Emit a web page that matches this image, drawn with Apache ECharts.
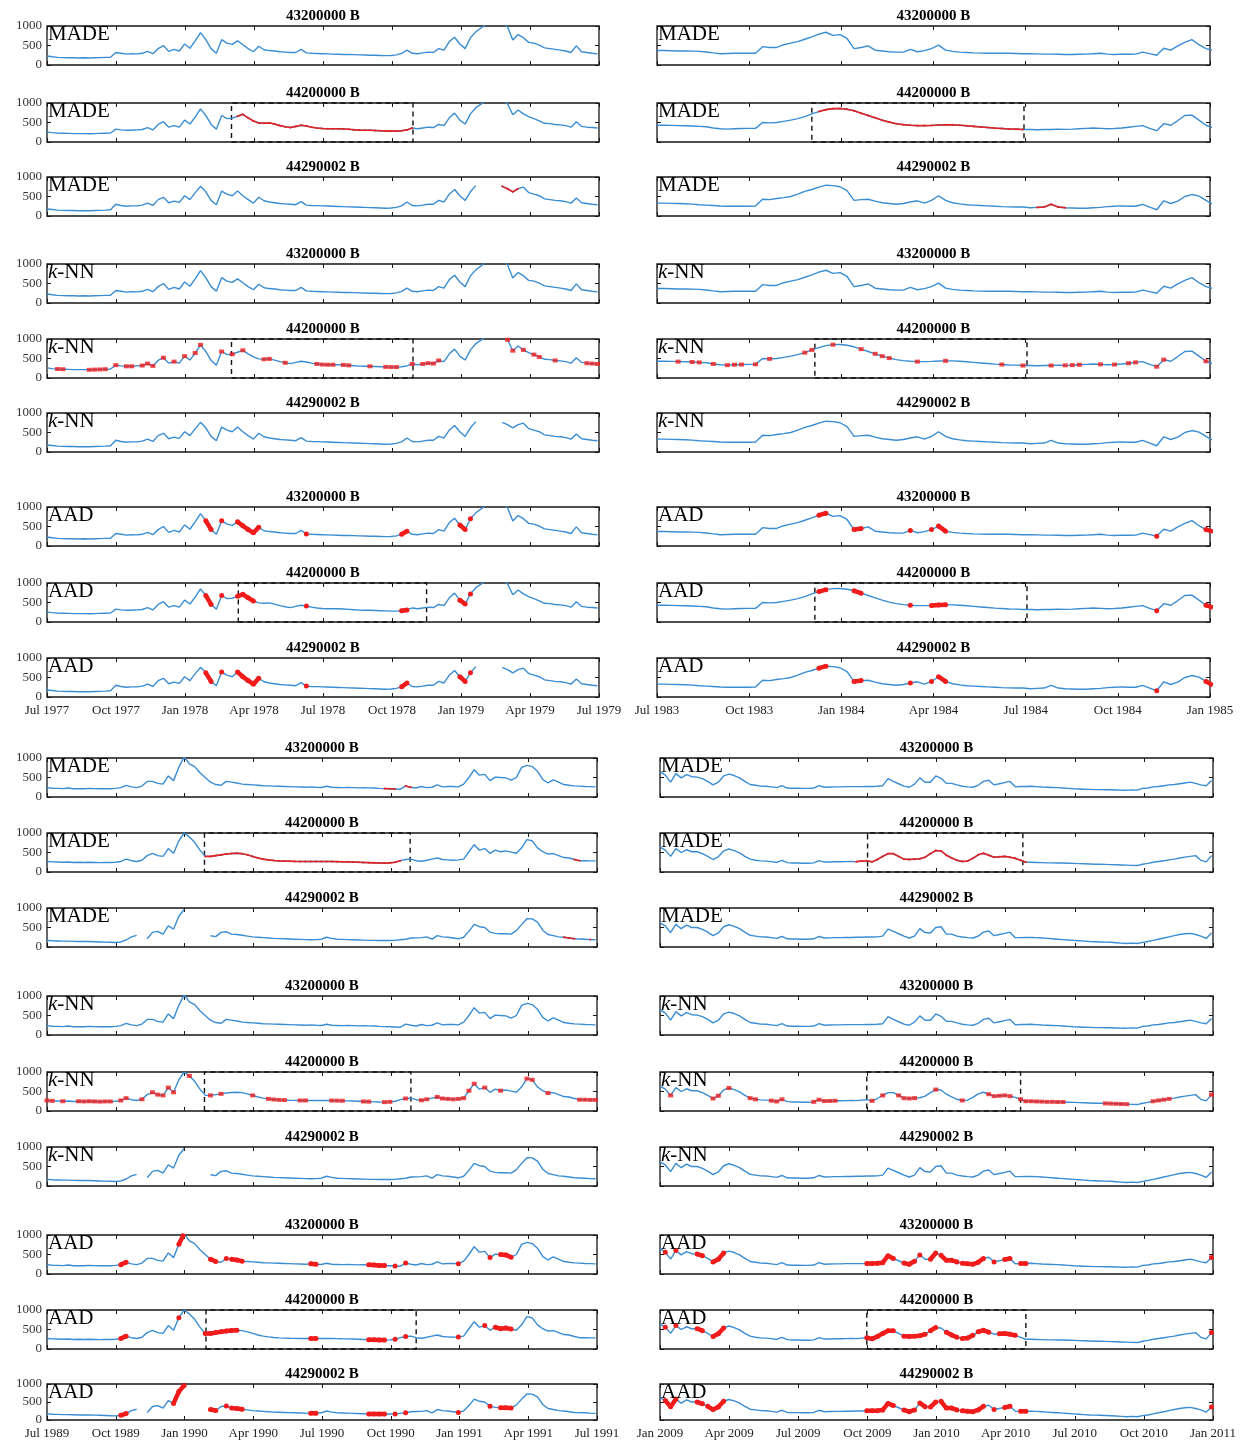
<!DOCTYPE html>
<html><head><meta charset="utf-8">
<script src="https://cdn.jsdelivr.net/npm/echarts@6/dist/echarts.min.js"></script>
<style>html,body{margin:0;padding:0;background:#fff}#c{width:1240px;height:1440px}</style>
</head><body><div id="c"></div>
<script>
// ---------------- DATA (weekly samples, step 7 days from the first tick) ----------------
const stations = ['43200000 B','44200000 B','44290002 B'];
const methods = ['MADE','k-NN','AAD'];

const tlTicks = ['Jul 1977','Oct 1977','Jan 1978','Apr 1978','Jul 1978','Oct 1978','Jan 1979','Apr 1979','Jul 1979'];
const trTicks = ['Jul 1983','Oct 1983','Jan 1984','Apr 1984','Jul 1984','Oct 1984','Jan 1985'];
const blTicks = ['Jul 1989','Oct 1989','Jan 1990','Apr 1990','Jul 1990','Oct 1990','Jan 1991','Apr 1991','Jul 1991'];
const brTicks = ['Jan 2009','Apr 2009','Jul 2009','Oct 2009','Jan 2010','Apr 2010','Jul 2010','Oct 2010','Jan 2011'];
const yTicks = ['0','500','1000'];

// Jul 1977 - Jul 1979
const tl43200000 = [230,210,195,190,185,185,180,185,180,185,
 190,195,200,320,300,280,290,285,300,350,
 290,420,500,350,400,360,540,430,620,830,
 650,420,300,650,560,530,620,520,420,340,
 480,390,370,360,340,330,320,320,400,310,
 300,295,290,285,280,275,270,268,265,260,
 255,250,250,245,240,245,260,300,380,300,
 290,310,330,320,420,380,600,710,540,420,
 700,850,950,1050,1150,1200,1100,980,640,780,
 700,580,560,510,440,420,400,380,360,320,
 490,340,320,300,285];
const tl44200000 = [260,240,230,225,220,215,215,215,210,215,
 220,225,230,330,310,300,300,310,320,370,
 310,450,520,380,420,380,560,460,640,850,
 680,450,330,680,600,610,660,710,620,540,
 490,480,490,460,420,390,370,400,430,410,
 380,360,345,340,340,340,335,325,315,305,
 300,300,295,290,285,280,280,290,310,360,
 340,360,380,370,450,420,620,740,560,460,
 720,880,970,1060,1150,1200,1100,980,700,820,
 720,650,600,540,480,470,450,440,420,380,
 520,400,380,370,360];
const tl44290002 = [180,165,150,145,140,140,135,135,135,140,
 145,150,160,300,270,250,260,260,280,330,
 270,420,480,340,380,350,520,420,600,760,
 620,400,290,640,560,520,640,520,420,330,
 480,390,360,340,320,310,300,290,370,280,
 270,265,260,255,250,245,240,235,230,225,
 220,215,210,205,200,205,220,260,360,270,
 260,280,300,300,400,360,560,680,520,400,
 620,780,null,null,null,null,760,700,620,700,
 740,600,560,520,440,420,400,390,370,330,
 460,340,320,300,290];

// Jul 1983 - Jan 1985
const tr43200000 = [370,370,365,360,358,355,350,335,310,290,
 295,300,300,300,300,470,450,450,520,560,
 600,660,720,790,840,760,780,680,420,450,
 490,380,360,340,330,330,400,340,370,420,
 510,380,350,330,320,310,305,300,300,300,
 300,295,290,290,285,280,280,275,270,270,
 275,280,290,300,280,270,280,275,280,330,
 290,250,430,380,490,580,650,520,420,370];
const tr44200000 = [430,430,425,420,415,410,400,390,360,340,
 330,340,345,350,350,500,490,500,530,560,
 600,650,720,780,830,855,860,840,800,740,
 680,620,560,510,470,445,430,420,420,425,
 435,440,440,430,415,400,385,370,355,345,
 335,330,320,320,315,320,320,330,325,330,
 340,350,360,350,340,345,360,380,400,420,
 350,290,470,430,550,680,690,560,430,370];
const tr44290002 = [330,330,325,320,315,305,290,280,270,255,
 250,250,250,250,255,430,420,450,470,500,
 560,630,680,740,790,780,750,650,400,420,
 430,380,340,320,300,320,360,390,330,400,
 520,400,340,310,290,280,270,260,250,240,
 235,230,230,210,220,230,300,230,210,205,
 200,200,210,220,240,250,260,250,250,300,
 230,160,390,320,380,500,550,510,400,300];

// Jul 1989 - Jul 1991
const bl43200000 = [240,225,220,215,230,210,215,210,220,215,
 210,215,210,220,240,300,260,240,280,400,
 400,350,330,540,420,760,1030,850,780,620,
 500,380,320,300,400,380,360,330,320,310,
 300,290,285,280,275,270,265,260,255,250,
 260,250,245,275,250,245,240,245,240,235,
 240,235,230,220,215,210,205,200,280,250,
 230,270,240,250,310,260,270,270,260,330,
 500,700,560,580,420,510,500,490,430,500,
 760,810,780,660,450,360,440,380,320,300,
 285,280,270,265,260];
const bl44200000 = [270,260,255,250,255,245,250,245,250,245,
 240,245,245,250,270,330,290,270,300,420,
 480,420,400,600,480,800,1000,900,760,560,
 400,400,420,440,460,475,480,470,440,400,
 360,330,310,295,285,280,275,272,270,270,
 270,270,270,270,268,265,262,260,255,250,
 245,240,235,230,228,235,250,290,320,330,
 290,275,300,330,360,320,310,300,310,330,
 520,700,560,600,480,560,520,540,510,480,
 620,830,800,620,520,460,470,420,370,360,
 320,290,290,285,285];
const bl44290002 = [170,160,155,150,150,145,140,140,140,135,
 130,125,120,115,130,180,260,300,null,210,
 375,400,330,540,460,790,960,null,null,null,
 null,290,265,375,390,330,320,300,280,260,
 250,240,230,220,215,210,205,200,195,190,
 185,190,200,250,220,200,195,190,185,180,
 175,170,170,165,165,165,170,185,200,230,
 235,240,260,200,290,260,250,230,210,250,
 400,580,520,500,380,350,340,340,330,420,
 580,725,720,640,430,320,290,260,250,230,
 210,205,200,190,185];

// Jan 2009 - Jan 2011
const br43200000 = [650,560,380,600,490,575,520,510,470,400,
 310,380,540,585,550,490,400,320,300,280,
 275,260,240,290,230,225,225,220,220,230,
 290,250,255,260,260,265,265,265,265,270,
 270,275,290,470,400,340,280,250,330,490,
 380,380,540,480,350,350,310,275,260,250,
 300,400,430,310,340,370,400,260,270,270,
 275,265,255,250,245,240,230,220,210,205,
 200,195,190,190,185,185,180,175,175,180,
 175,220,230,260,270,290,310,320,340,360,
 380,350,310,290,420];
const br44200000 = [640,560,400,600,500,570,520,520,470,400,
 320,390,540,590,550,490,400,330,300,285,
 280,265,245,300,240,230,230,225,225,235,
 290,255,258,262,262,265,268,265,280,290,
 260,320,400,470,470,400,330,320,330,340,
 380,470,550,540,430,360,300,270,280,350,
 440,480,430,380,390,400,380,350,300,250,
 250,245,240,235,235,230,230,225,220,215,
 210,205,200,200,195,190,185,180,175,170,
 165,200,220,250,270,290,310,330,360,380,
 400,420,300,260,420];
const br44290002 = [620,540,370,580,470,560,500,500,450,380,
 290,360,520,570,530,470,380,300,280,260,
 255,240,220,270,210,205,205,200,200,210,
 270,230,235,240,240,245,245,250,250,255,
 255,260,280,460,400,340,280,230,280,470,
 370,360,500,520,330,330,280,255,240,230,
 280,380,410,290,320,350,380,240,240,245,
 245,240,230,220,210,200,190,180,170,160,
 150,140,135,130,125,120,110,100,90,100,
 90,120,140,170,200,230,260,290,320,340,
 350,320,280,220,360];

// highlighted (red) week-index ranges
const tlMadeRed = [[], [[36,69]], [[86,89]]];
const tlKnnPts = [[], [[2,3],[8,11],[13,13],[15,16],[18,20],[22,22],[24,24],[26,26],[28,29],[33,33],[35,35],[37,37],[41,42],[45,45],[51,54],[56,57],[61,61],[64,66],[69,69],[71,74],[86,88],[90,90],[92,93],[96,96],[102,104]], []];
const tlAad = [[[30,31],[33,33],[36,40],[49,49],[67,68],[78,79],[80,80]],
               [[30,31],[33,33],[36,39],[49,49],[67,68],[78,79],[80,80]],
               [[30,31],[33,33],[36,40],[49,49],[67,68],[78,79],[80,80]]];
const trMadeRed = [[], [[23,52]], [[54,58]]];
const trKnnPts = [[], [[3,3],[5,6],[8,8],[10,12],[14,14],[16,16],[21,22],[25,25],[29,29],[31,33],[37,37],[41,41],[49,49],[52,52],[56,56],[58,60],[63,63],[65,65],[67,68],[71,72],[78,78]], []];
const trAad = [[[23,24],[28,29],[36,36],[39,39],[40,41],[71,71],[78,79]],
               [[23,24],[28,29],[36,36],[39,41],[71,71],[78,79]],
               [[23,24],[28,29],[36,36],[39,39],[40,41],[71,71],[78,79]]];
const blMadeRed = [[[64,66],[68,69]], [[30,67],[100,101]], [[98,100],[103,103]]];
const blKnnPts = [[], [[0,1],[3,3],[6,12],[14,15],[18,18],[20,24],[27,27],[31,31],[33,33],[39,39],[42,45],[48,49],[54,56],[60,61],[64,65],[68,68],[71,72],[74,81],[83,83],[86,86],[91,92],[95,95],[101,104]], []];
const blAad = [[[14,15],[25,26],[31,32],[34,34],[35,37],[50,51],[61,64],[66,66],[68,68],[78,78],[84,84],[86,88]],
               [[14,15],[25,25],[30,36],[50,51],[61,64],[66,66],[68,68],[78,78],[83,83],[85,88]],
               [[14,15],[24,26],[31,32],[34,34],[35,37],[50,51],[61,64],[66,66],[68,68],[78,78],[84,84],[86,88]]];
const brMadeRed = [[], [[37,69]], []];
const brKnnPts = [[], [[2,2],[10,11],[13,13],[17,18],[21,23],[29,33],[40,40],[42,42],[45,48],[52,52],[57,57],[62,66],[68,76],[84,88],[93,96],[104,104]], []];
const brAad = [[[1,1],[3,3],[7,8],[10,12],[39,44],[46,48],[49,49],[51,52],[53,56],[57,61],[63,63],[65,66],[68,69],[104,104]],
               [[1,1],[3,3],[7,8],[10,12],[39,44],[46,50],[51,52],[54,56],[57,59],[60,62],[64,67],[104,104]],
               [[1,3],[7,8],[9,12],[39,44],[46,48],[49,50],[51,52],[53,56],[57,61],[63,63],[65,66],[68,69],[104,104]]];

// dashed-box day ranges for 44200000 (MADE, k-NN, AAD)
const tlBoxes = [[244,484],[244,484],[253,502]];
const trBoxes = [[154,365],[157,368],[157,368]];
const blBoxes = [[209,482],[209,483],[211,490]];
const brBoxes = [[274,479],[273,476],[273,483]];

// ---------------- LAYOUT ----------------
const STEP = 7;
const SERIF = "'Liberation Serif','Times New Roman',serif";
const BLUE = '#3a8dd3', RED = '#f01c1c';
const quads = [
  {left:47, width:552, span:730, nTick:8, ticks:tlTicks, yLabels:true, tops:[26,103,177,264,339,413,507,583,658], h:39,
   data:[tl43200000,tl44200000,tl44290002], made:tlMadeRed, knn:tlKnnPts, aad:tlAad, boxes:tlBoxes},
  {left:657, width:553, span:550, nTick:6, ticks:trTicks, yLabels:false, tops:[26,103,177,264,339,413,507,583,658], h:39,
   data:[tr43200000,tr44200000,tr44290002], made:trMadeRed, knn:trKnnPts, aad:trAad, boxes:trBoxes},
  {left:47, width:550, span:730, nTick:8, ticks:blTicks, yLabels:true, tops:[758,833,908,996,1072,1147,1235,1310,1384], h:39,
   data:[bl43200000,bl44200000,bl44290002], made:blMadeRed, knn:blKnnPts, aad:blAad, boxes:blBoxes},
  {left:660, width:553, span:730, nTick:8, ticks:brTicks, yLabels:false, tops:[758,833,908,996,1072,1147,1235,1310,1384], h:39,
   data:[br43200000,br44200000,br44290002], made:brMadeRed, knn:brKnnPts, aad:brAad, boxes:brBoxes}
];

const yv = v => (v == null ? '-' : v);
function linePts(vals){ return vals.map((v,i)=>[i*STEP, yv(v)]); }
function groupLine(vals, groups){
  const out = [];
  groups.forEach(([a,b])=>{ for(let i=a;i<=b;i++) out.push([i*STEP, yv(vals[i])]); out.push([b*STEP+3.5,'-']); });
  return out;
}
function groupPts(vals, groups){
  const out = [];
  groups.forEach(([a,b])=>{ for(let i=a;i<=b;i++) if(vals[i]!=null) out.push([i*STEP, vals[i]]); });
  return out;
}

const option = {animation:false, backgroundColor:'#fff', grid:[], xAxis:[], yAxis:[], series:[], graphic:[]};
let g = 0;
quads.forEach(q=>{
  const interval = q.span / q.nTick;
  for(let m=0;m<3;m++) for(let s=0;s<3;s++){
    const r = m*3+s, top = q.tops[r];
    const last = r===8;
    option.grid.push({left:q.left, top:top, width:q.width, height:q.h, show:true, borderColor:'#161616', borderWidth:1.3, backgroundColor:'transparent'});
    const xb = {gridIndex:g, type:'value', min:0, max:q.span, interval:interval, splitLine:{show:false},
      axisLine:{show:false,onZero:false}, axisTick:{show:true, inside:true, length:4, lineStyle:{color:'#161616', width:1}}};
    option.xAxis.push(Object.assign({}, xb, {position:'bottom', axisLabel:{show:last, margin:7, fontFamily:SERIF, fontSize:13, color:'#222',
      showMinLabel:true, showMaxLabel:true, hideOverlap:false, formatter:(v)=>q.ticks[Math.round(v/interval)]||''}}));
    option.xAxis.push(Object.assign({}, xb, {position:'top', axisLabel:{show:false}}));
    const yb = {gridIndex:g, type:'value', min:0, max:1000, interval:500, splitLine:{show:false},
      axisLine:{show:false,onZero:false}, axisTick:{show:true, inside:true, length:4, lineStyle:{color:'#161616', width:1}}};
    option.yAxis.push(Object.assign({}, yb, {position:'left', axisLabel:{show:q.yLabels, margin:5, fontFamily:SERIF, fontSize:13, color:'#333',
      formatter:(v)=>yTicks[Math.round(v/500)]||''}}));
    option.yAxis.push(Object.assign({}, yb, {position:'right', axisLabel:{show:false}}));
    const xi = 2*g, yi = 2*g;
    const vals = q.data[s];
    const blue = {type:'line', xAxisIndex:xi, yAxisIndex:yi, data:linePts(vals), symbol:'none', clip:true,
      lineStyle:{color:BLUE, width:1.4}, z:2, connectNulls:false};
    if(s===1){
      const b = q.boxes[m];
      blue.markArea = {silent:true, itemStyle:{color:'rgba(0,0,0,0)', borderColor:'#111', borderWidth:1.4, borderType:[5,4]},
        data:[[{xAxis:b[0]},{xAxis:b[1]}]]};
    }
    option.series.push(blue);
    if(m===0 && q.made[s].length){
      option.series.push({type:'line', xAxisIndex:xi, yAxisIndex:yi, data:groupLine(vals,q.made[s]), clip:true,
        symbol:'circle', symbolSize:2, showAllSymbol:true, itemStyle:{color:'#e02424'}, lineStyle:{color:'#e02424', width:1.6}, z:3, connectNulls:false});
    }
    if(m===1 && q.knn[s].length){
      option.series.push({type:'scatter', xAxisIndex:xi, yAxisIndex:yi, data:groupPts(vals,q.knn[s]), clip:true,
        symbol:'rect', symbolSize:[5,4], itemStyle:{color:RED}, z:4});
    }
    if(m===2 && q.aad[s].length){
      option.series.push({type:'line', xAxisIndex:xi, yAxisIndex:yi, data:groupLine(vals,q.aad[s]), clip:true,
        symbol:'circle', symbolSize:5, showAllSymbol:true, itemStyle:{color:RED}, lineStyle:{color:RED, width:4.5}, z:4, connectNulls:false});
    }
    // title
    option.graphic.push({type:'text', x:q.left+q.width/2, y:top-10, z:100,
      style:{text:stations[s], align:'center', verticalAlign:'middle', fontFamily:SERIF, fontWeight:'bold', fontSize:15, fill:'#000'}});
    // method label
    const lbl = m===1 ? '{i|k}-NN' : methods[m];
    option.graphic.push({type:'text', x:q.left+1, y:top-2, z:100,
      style:{text:lbl, align:'left', verticalAlign:'top', fontFamily:SERIF, fontSize:21, fill:'#000',
        rich:{i:{fontFamily:SERIF, fontSize:21, fontStyle:'italic', fill:'#000'}}}});
    g++;
  }
});

const chart = echarts.init(document.getElementById('c'), null, {renderer:'canvas'});
chart.setOption(option);
</script></body></html>
